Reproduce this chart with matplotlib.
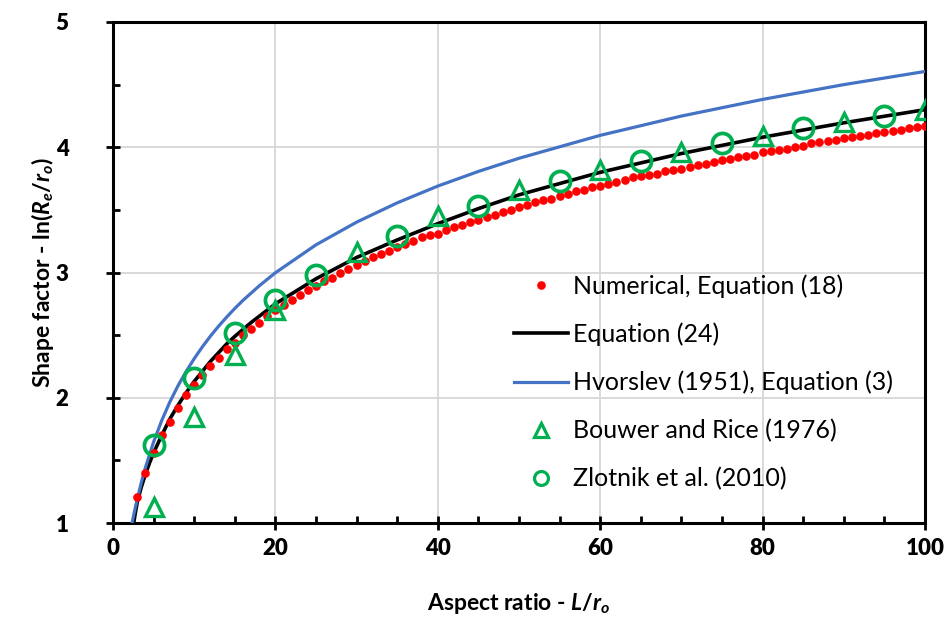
import matplotlib
matplotlib.use("Agg")
import matplotlib.pyplot as plt
from matplotlib.ticker import MultipleLocator

plt.rcParams["font.family"] = ["Lato", "DejaVu Sans"]
plt.rcParams["mathtext.fontset"] = "custom"
plt.rcParams["mathtext.it"] = "Lato:bold:italic"
plt.rcParams["mathtext.rm"] = "Lato:bold"
plt.rcParams["mathtext.bf"] = "Lato:bold"

# Numerical, Equation (18): one dot per integer aspect ratio
num_x = list(range(3, 101))
num_y = [1.21, 1.40, 1.56, 1.70, 1.81, 1.92, 2.02, 2.10, 2.18, 2.25,
         2.32, 2.39, 2.44, 2.50, 2.55, 2.60, 2.65, 2.70, 2.74, 2.78,
         2.82, 2.86, 2.89, 2.93, 2.96, 3.00, 3.03, 3.06, 3.09, 3.12,
         3.15, 3.17, 3.20, 3.23, 3.25, 3.28, 3.30, 3.31, 3.34, 3.36,
         3.38, 3.40, 3.42, 3.44, 3.46, 3.48, 3.50, 3.52, 3.54, 3.56,
         3.58, 3.59, 3.61, 3.63, 3.65, 3.66, 3.68, 3.69, 3.71, 3.72,
         3.74, 3.76, 3.77, 3.78, 3.79, 3.81, 3.82, 3.83, 3.84, 3.86,
         3.87, 3.88, 3.90, 3.91, 3.92, 3.93, 3.94, 3.96, 3.97, 3.98,
         3.99, 4.00, 4.01, 4.03, 4.04, 4.05, 4.06, 4.07, 4.08, 4.09,
         4.10, 4.11, 4.12, 4.13, 4.14, 4.15, 4.16, 4.17]

# Equation (24)
eq24_x = [2.55, 2.75, 3, 3.5, 4, 4.5, 5, 6, 7, 8, 9, 10, 11, 12, 13, 14,
          15, 17, 18, 20, 25, 30, 35, 40, 45, 50, 60, 70, 80, 90, 100]
eq24_y = [1.00, 1.08, 1.17, 1.29, 1.39, 1.48, 1.56, 1.70, 1.83, 1.94, 2.04,
          2.13, 2.21, 2.29, 2.36, 2.43, 2.49, 2.60, 2.65, 2.75, 2.95, 3.12,
          3.26, 3.39, 3.51, 3.62, 3.80, 3.95, 4.08, 4.195, 4.30]

# Hvorslev (1951), Equation (3)
hv_x = [2.35, 2.6, 3, 3.5, 4, 5, 6, 7, 8, 9, 10, 11, 12, 13, 14, 15, 16,
        18, 20, 25, 30, 35, 40, 45, 50, 60, 70, 80, 90, 100]
hv_y = [1.000, 1.079, 1.195, 1.326, 1.444, 1.647, 1.818, 1.966, 2.095,
        2.209, 2.312, 2.406, 2.492, 2.571, 2.644, 2.713, 2.777, 2.893,
        2.998, 3.221, 3.402, 3.556, 3.690, 3.807, 3.912, 4.095, 4.249,
        4.382, 4.500, 4.605]

# Bouwer and Rice (1976)
br_x = [5, 10, 15, 20, 30, 40, 50, 60, 70, 80, 90, 100]
br_y = [1.13, 1.85, 2.34, 2.70, 3.16, 3.45, 3.66, 3.82, 3.96, 4.09, 4.20, 4.30]

# Zlotnik et al. (2010)
zl_x = [5, 10, 15, 20, 25, 35, 45, 55, 65, 75, 85, 95]
zl_y = [1.62, 2.16, 2.52, 2.78, 2.98, 3.29, 3.53, 3.73, 3.89, 4.03, 4.15, 4.25]

# axis ticks
x_ticks = [0, 20, 40, 60, 80, 100]
x_tick_labels = ["0", "20", "40", "60", "80", "100"]
y_ticks = [1, 2, 3, 4, 5]
y_tick_labels = ["1", "2", "3", "4", "5"]

green = "#00B050"

fig = plt.figure(figsize=(9.51, 6.19), dpi=100)
ax = fig.add_axes([113 / 951, 1 - 523 / 619, 812 / 951, 501 / 619])

ax.plot(eq24_x, eq24_y, color="black", lw=2.6, zorder=3, label="Equation (24)")
ax.plot(num_x, num_y, ls="none", marker="o", ms=5.2, color="#FF0000",
        mec="#FF0000", zorder=4, label="Numerical, Equation (18)")
ax.plot(hv_x, hv_y, color="#4472C4", lw=2.3, zorder=3,
        label="Hvorslev (1951), Equation (3)")
ax.plot(br_x, br_y, ls="none", marker="^", ms=13.5, mfc="none", mec=green,
        mew=2.4, zorder=5, label="Bouwer and Rice (1976)")
ax.plot(zl_x, zl_y, ls="none", marker="o", ms=14.5, mfc="none", mec=green,
        mew=2.7, zorder=6, label="Zlotnik et al. (2010)")

ax.set_xlim(0, 100)
ax.set_ylim(1, 5)
ax.set_xticks(x_ticks, labels=x_tick_labels, fontsize=16, fontweight="heavy")
ax.set_yticks(y_ticks, labels=y_tick_labels, fontsize=16, fontweight="heavy")
ax.xaxis.set_minor_locator(MultipleLocator(5))
ax.yaxis.set_minor_locator(MultipleLocator(0.5))
ax.grid(True, which="major", color="#d9d9d9", lw=1.4, zorder=0)
ax.set_axisbelow(True)

for s in ax.spines.values():
    s.set_linewidth(2.2)
    s.set_color("black")

ax.tick_params(which="major", direction="inout", length=10, width=2)
ax.tick_params(which="minor", direction="in", length=5, width=2)
ax.tick_params(axis="x", which="major", pad=6)
ax.tick_params(axis="y", which="major", pad=27)

ax.set_xlabel(r"Aspect ratio - $L$/$r_o$", fontsize=16.5, fontweight="bold")
ax.set_ylabel(r"Shape factor - ln($R_e$/$r_o$)", fontsize=16.5, fontweight="bold")
ax.xaxis.set_label_coords(0.5, -0.135)
ax.yaxis.set_label_coords(-0.07, 0.5)

h, l = ax.get_legend_handles_labels()
order = [1, 0, 2, 3, 4]
leg = ax.legend([h[i] for i in order], [l[i] for i in order],
                loc="upper left", bbox_to_anchor=(0.494, 0.497),
                frameon=False, prop={"size": 18, "weight": "normal"},
                handlelength=2.16, handletextpad=0.2, labelspacing=0.99,
                borderpad=0, borderaxespad=0)
for hd in leg.legend_handles:
    if hd.get_marker() == "^" or (hd.get_marker() == "o" and hd.get_markersize() > 10):
        hd.set_markersize(10)
        hd.set_markeredgewidth(2.3)

fig.savefig("out.png", dpi=100)
